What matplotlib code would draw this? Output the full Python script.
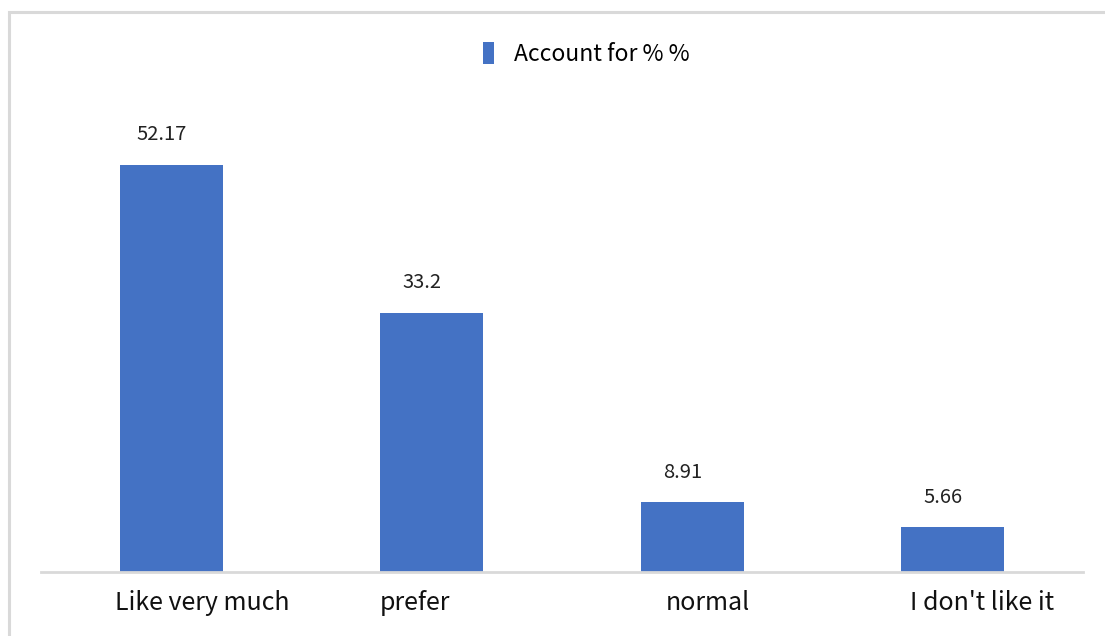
import matplotlib.pyplot as plt
from matplotlib.patches import Rectangle
from matplotlib.transforms import ScaledTranslation

plt.rcParams['font.family'] = ['Noto Sans CJK SC', 'DejaVu Sans']

# ===== Data ==================================================================
categories = ["Like very much", "prefer", "normal", "I don't like it"]
shares = [52.17, 33.2, 8.91, 5.66]
series_name = "Account for % %"

# small horizontal nudges (points) of the category labels
label_shift = [22, -12, 11, 21]

BAR_COLOR = "#4472C4"
GRID_GRAY = "#d9d9d9"

# ===== Plotting ==============================================================
fig = plt.figure(figsize=(11.05, 6.36), dpi=100)
ax = fig.add_axes([0.0371, 0.1014, 0.9430, 0.7358])

x = range(len(categories))
bars = ax.bar(x, shares, width=0.395, color=BAR_COLOR, label=series_name)

for rect, val in zip(bars, shares):
    ax.annotate(f"{val:g}", (rect.get_x() + rect.get_width() / 2, rect.get_height()),
                xytext=(-7, 14), textcoords="offset points",
                ha="center", va="bottom", fontsize=14.5, color="#222222")

ax.set_xlim(-0.5, len(categories) - 0.5)
ax.set_ylim(0, 60)
ax.set_yticks([])
ax.set_xticks(list(x))
ax.set_xticklabels(categories, fontsize=18, color="#111111")
ax.tick_params(axis="x", length=0, pad=13.5)
for lbl, dx in zip(ax.get_xticklabels(), label_shift):
    lbl.set_transform(lbl.get_transform() + ScaledTranslation(dx / 72, 0, fig.dpi_scale_trans))

for side in ["top", "right", "left"]:
    ax.spines[side].set_visible(False)
ax.spines["bottom"].set_color(GRID_GRAY)
ax.spines["bottom"].set_linewidth(2)

fig.legend(loc="upper center", bbox_to_anchor=(0.531, 0.966), frameon=False,
           fontsize=16.5, handlelength=0.45, handleheight=1.1, handletextpad=0.9)

# light frame around the chart area
fig.patches.append(Rectangle((9 / 1105, -0.05), 1.2, 1.05 - 12 / 636,
                             transform=fig.transFigure, fill=False,
                             edgecolor=GRID_GRAY, linewidth=2.2))

fig.savefig("out.png", dpi=100)
